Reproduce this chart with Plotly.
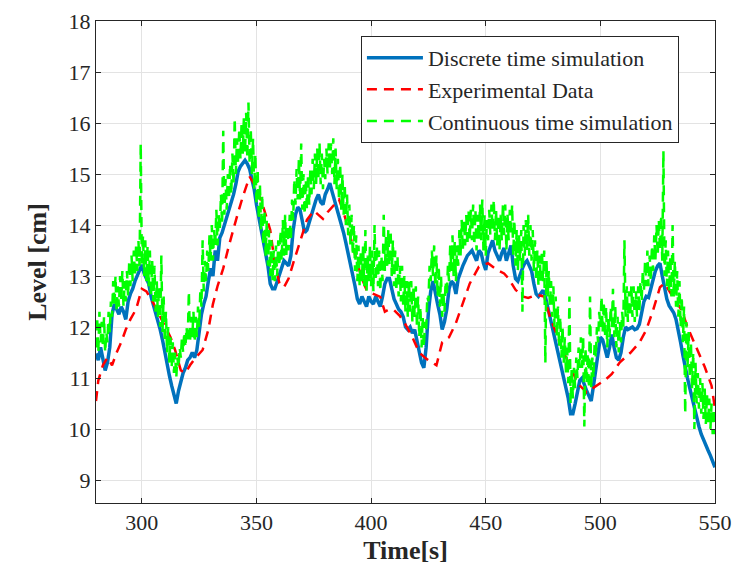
import plotly.graph_objects as go

# ---- data ----
t_blue = list(range(280, 551))
discrete_sim = [
    11.48, 11.35, 11.6, 11.4, 11.15, 11.3, 11.6, 12.25, 12.45, 12.35,
    12.25, 12.4, 12.3, 12.15, 12.5, 12.65, 12.75, 12.9, 13.0, 13.1,
    13.22, 13.05, 12.95, 12.85, 12.6, 12.45, 12.3, 12.15, 11.95, 11.75,
    11.5, 11.25, 11.05, 10.85, 10.65, 10.5, 10.75, 10.95, 11.1, 11.2,
    11.35, 11.4, 11.5, 11.4, 11.55, 11.9, 12.25, 12.45, 12.6, 12.9,
    13.15, 13.0, 13.5, 13.3, 13.75, 13.85, 14.0, 14.1, 14.25, 14.4,
    14.6, 14.8, 15.05, 15.15, 15.2, 15.27, 15.2, 15.1, 14.9, 14.7,
    14.4, 14.15, 13.95, 13.65, 13.4, 13.2, 12.85, 12.75, 12.75, 12.9,
    13.05, 13.2, 13.3, 13.25, 13.2, 13.4, 13.9, 14.2, 14.35, 14.3,
    14.05, 13.85, 13.9, 14.05, 14.25, 14.35, 14.5, 14.6, 14.45, 14.4,
    14.6, 14.7, 14.82, 14.65, 14.5, 14.35, 14.2, 14.0, 13.85, 13.65,
    13.45, 13.25, 13.05, 12.8, 12.55, 12.45, 12.6, 12.5, 12.4, 12.6,
    12.5, 12.45, 12.6, 12.5, 12.4, 12.6, 12.85, 12.95, 12.95, 12.75,
    12.55, 12.45, 12.35, 12.3, 12.2, 12.0, 11.95, 12.0, 11.88, 11.95,
    11.75, 11.55, 11.3, 11.2, 11.6, 12.3, 12.7, 12.9, 12.65, 12.45,
    12.25, 11.95, 12.1, 12.35, 12.75, 12.9, 12.85, 12.65, 12.95, 13.1,
    13.2, 13.3, 13.4, 13.45, 13.5, 13.4, 13.3, 13.5, 13.45, 13.25,
    13.12, 13.45, 13.6, 13.7, 13.5, 13.4, 13.3, 13.45, 13.55, 13.3,
    13.45, 13.6, 13.2, 12.95, 12.9, 13.05, 13.15, 13.25, 13.3, 13.2,
    13.1, 12.85, 12.65, 12.6, 12.65, 12.72, 12.6, 12.4, 12.2, 12.0,
    11.8, 11.6, 11.4, 11.2, 11.05, 10.85, 10.6, 10.3, 10.3, 10.5,
    10.75, 10.95, 11.0, 10.85, 10.75, 10.65, 10.55, 10.85, 11.2, 11.5,
    11.8, 11.75, 11.6, 11.4, 11.6, 11.85, 11.6, 11.4, 11.35, 11.5,
    11.8, 12.0, 11.95, 11.98, 12.0, 11.95, 11.97, 12.05, 12.3, 12.5,
    12.6, 12.58, 12.75, 12.95, 13.1, 13.2, 13.25, 13.0, 12.75, 12.55,
    12.42, 12.35, 12.28, 12.15, 11.95, 11.7, 11.45, 11.2, 11.0, 10.8,
    10.6, 10.42, 10.25, 10.05, 9.9, 9.78, 9.7, 9.58, 9.48, 9.35,
    9.25,
]

t_exp = [
    280, 281, 283, 285, 287, 289, 291, 293, 295, 297.5,
    300, 302, 305, 307.5, 310, 312.5, 314.5, 317, 319, 321,
    323.5, 326.5, 329, 331, 333, 335.5, 338, 340, 342, 344,
    347, 349, 351, 353, 356, 358, 360, 362, 364, 366,
    368, 370, 372, 375, 377, 379, 381, 383, 386, 388,
    390, 392, 394, 396, 398, 401, 404, 406, 408, 410,
    412.5, 415, 418, 421, 424, 426, 428.5, 431, 434, 437,
    440, 443, 447, 451, 455, 458, 460, 463, 466, 468.5,
    472, 475.5, 478, 481.5, 484, 487, 490, 494, 497.5, 502,
    505, 508.5, 513, 517, 520, 523, 526, 528, 531.5, 535.5,
    538, 542, 545.5, 548.5, 550,
]
experimental = [
    10.55, 10.95, 11.25, 11.4, 11.25, 11.5, 11.7, 11.95, 12.15, 12.35,
    12.75, 12.7, 12.47, 12.25, 12.05, 11.8, 11.55, 11.15, 11.1, 11.25,
    11.4, 11.55, 11.95, 12.45, 12.8, 13.15, 13.6, 13.95, 14.25, 14.55,
    14.95, 14.8, 14.6, 14.35, 13.9, 13.25, 12.86, 12.78, 12.95, 13.25,
    13.55, 13.85, 14.1, 14.28, 14.2, 14.12, 14.25, 14.35, 14.5, 14.25,
    13.95, 13.6, 13.25, 12.95, 12.73, 12.65, 12.59, 12.3, 12.35, 12.33,
    12.22, 12.05, 11.8, 11.5, 11.38, 11.32, 11.25, 11.7, 11.8, 12.08,
    12.45, 12.85, 13.18, 13.25, 13.12, 13.05, 12.95, 12.73, 12.6, 12.57,
    12.63, 12.6, 12.2, 11.8, 11.5, 11.22, 10.9, 10.72, 10.82, 10.96,
    11.08, 11.31, 11.49, 11.69, 11.94, 12.33, 12.78, 12.86, 12.6, 12.33,
    12.0, 11.6, 11.22, 10.85, 10.4,
]

# continuous-time simulation is very noisy: lower / upper edge of its band,
# one value per second (280 ... 550)
green_lo = [
    11.6, 11.5, 11.7, 11.6, 11.5, 11.7, 11.9, 12.2, 12.4, 12.3,
    12.4, 12.5, 12.4, 12.5, 12.6, 12.8, 12.9, 13.0, 13.1, 13.2,
    13.2, 13.0, 12.9, 12.8, 12.6, 12.5, 12.3, 12.2, 12.0, 11.9,
    11.7, 11.5, 11.3, 11.2, 11.1, 11.0, 11.2, 11.4, 11.5, 11.6,
    11.7, 11.7, 11.8, 11.7, 11.8, 12.0, 12.4, 12.7, 12.9, 13.1,
    13.3, 13.3, 13.6, 13.6, 13.9, 14.0, 14.2, 14.3, 14.5, 14.6,
    14.8, 15.0, 15.2, 15.3, 15.4, 15.4, 15.3, 15.2, 15.0, 14.7,
    14.4, 14.1, 13.9, 13.6, 13.4, 13.2, 13.0, 12.9, 12.9, 13.0,
    13.2, 13.3, 13.4, 13.4, 13.5, 13.7, 14.1, 14.4, 14.5, 14.5,
    14.3, 14.2, 14.3, 14.4, 14.6, 14.7, 14.8, 14.9, 14.8, 14.7,
    14.9, 15.0, 15.1, 15.0, 14.8, 14.7, 14.5, 14.3, 14.2, 14.0,
    13.8, 13.6, 13.4, 13.1, 12.9, 12.8, 12.9, 12.8, 12.7, 12.9,
    12.8, 12.7, 12.9, 12.8, 12.7, 12.9, 13.1, 13.2, 13.2, 13.0,
    12.8, 12.7, 12.6, 12.5, 12.4, 12.3, 12.2, 12.3, 12.1, 12.2,
    12.0, 11.8, 11.6, 11.6, 11.9, 12.5, 12.9, 13.0, 12.8, 12.6,
    12.4, 12.2, 12.3, 12.6, 12.9, 13.1, 13.0, 12.9, 13.2, 13.4,
    13.5, 13.6, 13.6, 13.7, 13.7, 13.6, 13.5, 13.7, 13.7, 13.5,
    13.4, 13.7, 13.8, 13.9, 13.7, 13.6, 13.5, 13.7, 13.8, 13.5,
    13.7, 13.8, 13.4, 13.2, 13.1, 13.3, 12.3, 13.4, 13.5, 13.4,
    13.3, 13.1, 12.9, 12.8, 12.9, 12.9, 11.3, 12.6, 12.4, 12.2,
    12.0, 11.8, 11.6, 11.4, 11.3, 11.1, 10.9, 10.5, 10.6, 10.8,
    11.0, 11.2, 11.2, 10.05, 10.9, 10.8, 10.8, 11.0, 11.4, 11.7,
    12.0, 11.9, 11.8, 11.6, 11.8, 12.0, 11.8, 11.6, 11.5, 11.7,
    12.0, 12.2, 12.1, 12.2, 12.2, 12.1, 12.2, 12.3, 12.5, 12.7,
    12.8, 12.8, 12.9, 13.1, 13.3, 13.4, 13.5, 13.3, 13.0, 12.8,
    12.7, 12.6, 12.6, 12.4, 12.2, 12.0, 11.7, 10.3, 11.2, 11.0,
    10.8, 10.0, 10.5, 10.4, 10.3, 10.2, 10.1, 10.1, 10.0, 9.9,
    9.9,
]
green_hi = [
    12.2, 12.3, 12.1, 12.2, 11.9, 12.3, 12.5, 12.9, 13.0, 12.8,
    13.0, 13.1, 12.9, 13.1, 13.3, 13.4, 13.5, 13.6, 13.7, 15.6,
    13.8, 13.7, 13.6, 13.5, 13.3, 13.2, 12.9, 12.8, 13.4, 12.6,
    12.3, 12.0, 11.8, 11.7, 11.5, 11.4, 11.6, 11.8, 11.9, 12.0,
    12.7, 12.2, 12.3, 12.2, 12.4, 12.7, 13.7, 13.3, 13.5, 13.8,
    14.0, 13.9, 14.3, 14.2, 14.6, 15.85, 14.9, 15.0, 15.2, 15.4,
    16.1, 15.7, 15.9, 16.0, 16.1, 16.2, 16.4, 15.9, 15.7, 15.4,
    15.1, 14.8, 14.6, 14.3, 14.1, 13.9, 13.7, 13.5, 13.6, 13.7,
    13.9, 14.1, 14.2, 14.0, 14.2, 14.5, 14.9, 15.1, 15.3, 15.6,
    15.0, 14.9, 15.0, 15.1, 15.3, 15.4, 15.5, 15.6, 15.4, 15.3,
    15.5, 15.6, 15.6, 15.7, 15.5, 15.3, 15.2, 15.0, 14.8, 14.6,
    14.4, 14.2, 14.0, 13.8, 13.6, 13.5, 13.6, 13.9, 13.4, 13.6,
    13.5, 14.0, 13.6, 13.5, 13.4, 14.2, 13.8, 13.9, 13.9, 13.7,
    13.5, 13.4, 13.2, 13.2, 13.0, 12.9, 12.9, 12.9, 12.8, 12.8,
    12.6, 12.4, 12.2, 12.1, 12.6, 13.2, 13.5, 13.6, 13.4, 13.2,
    13.0, 12.7, 12.9, 13.2, 13.6, 13.8, 13.7, 13.6, 13.9, 14.1,
    14.1, 14.2, 14.3, 14.3, 14.4, 14.3, 14.2, 14.4, 14.5, 14.2,
    14.1, 14.3, 14.4, 14.5, 14.3, 14.2, 14.2, 14.4, 14.4, 14.2,
    14.3, 14.4, 14.1, 13.9, 13.8, 13.9, 14.0, 14.1, 14.2, 14.0,
    13.9, 13.7, 13.5, 13.4, 13.5, 13.5, 13.3, 13.1, 12.9, 12.8,
    12.6, 12.4, 12.2, 12.0, 11.8, 11.6, 12.6, 11.2, 11.2, 11.4,
    11.6, 11.8, 11.8, 11.6, 11.5, 12.6, 11.4, 11.7, 12.0, 12.3,
    12.6, 12.5, 12.4, 12.2, 12.4, 12.75, 12.4, 12.2, 12.1, 12.3,
    13.7, 12.8, 12.7, 12.8, 12.8, 12.7, 12.8, 12.9, 13.1, 13.3,
    13.5, 13.4, 13.6, 13.8, 14.0, 14.1, 14.2, 15.45, 13.7, 13.5,
    13.4, 14.0, 13.3, 13.1, 12.9, 12.6, 12.4, 12.1, 11.9, 11.7,
    11.5, 11.3, 11.1, 11.0, 10.9, 10.8, 10.7, 10.6, 10.5, 10.4,
    10.2,
]

x_ticks = [300, 350, 400, 450, 500, 550]
y_ticks = [9, 10, 11, 12, 13, 14, 15, 16, 17, 18]

# the noisy band is drawn as a zig-zag lower -> upper every half second
t_green, continuous_sim = [], []
for i, (lo, hi) in enumerate(zip(green_lo, green_hi)):
    t_green += [280 + i, 280 + i + 0.5]
    continuous_sim += [lo, hi]

SERIF = "Liberation Serif, Times New Roman, serif"
AXIS = "#262626"

fig = go.Figure()
fig.add_trace(go.Scatter(
    x=t_blue, y=discrete_sim, mode="lines",
    line=dict(color="#0072BD", width=3.5),
    name="Discrete time simulation",
))
fig.add_trace(go.Scatter(
    x=t_exp, y=experimental, mode="lines",
    line=dict(color="#FF0000", width=2.5, dash="10px,7px"),
    name="Experimental Data",
))
fig.add_trace(go.Scatter(
    x=t_green, y=continuous_sim, mode="lines",
    line=dict(color="#00FF00", width=2.5, dash="10px,7px"),
    name="Continuous time simulation",
))

axis_common = dict(
    showgrid=True, gridcolor="#e3e3e3", gridwidth=1,
    showline=True, linecolor=AXIS, linewidth=1, mirror="ticks",
    ticks="inside", ticklen=5, tickcolor=AXIS,
    tickfont=dict(family=SERIF, size=22, color=AXIS),
    zeroline=False, automargin=False,
)
fig.update_xaxes(
    range=[280, 550], tickvals=x_ticks,
    title=dict(text="<b>Time[s]</b>", font=dict(family=SERIF, size=26, color=AXIS),
               standoff=6),
    **axis_common,
)
fig.update_yaxes(
    range=[8.55, 18], tickvals=y_ticks,
    title=dict(text="<b>Level [cm]</b>", font=dict(family=SERIF, size=26, color=AXIS),
               standoff=14),
    **axis_common,
)
fig.update_layout(
    width=736, height=569,
    margin=dict(l=96, r=21, t=21, b=66),
    paper_bgcolor="white", plot_bgcolor="white",
    font=dict(family=SERIF, size=22, color=AXIS),
    showlegend=True,
    legend=dict(
        x=0.428, y=0.969, xanchor="left", yanchor="top",
        bgcolor="white", bordercolor=AXIS, borderwidth=1,
        font=dict(family=SERIF, size=22, color=AXIS),
        itemwidth=56, tracegroupgap=0,
    ),
)

# drop the page's default body margin so the figure fills the window
fig.write_html(
    "out.html",
    config={"displayModeBar": False},
    post_script="document.body.style.margin = '0px';",
)
